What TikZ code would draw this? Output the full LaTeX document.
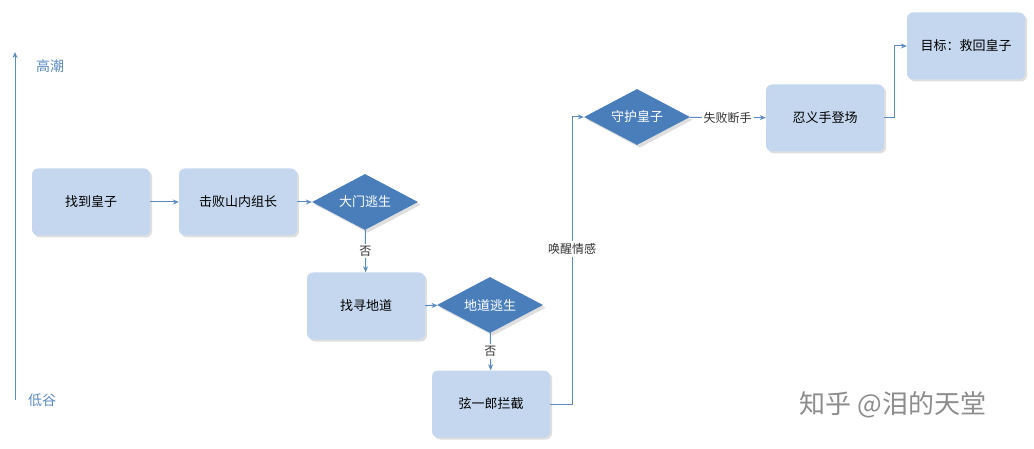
\documentclass[tikz,border=0pt]{standalone}
\usepackage{fontspec}
\setmainfont{Noto Sans CJK SC}
\usetikzlibrary{shapes.geometric,arrows.meta,shadows}
\definecolor{boxfill}{HTML}{C5D7EE}
\definecolor{diafill}{HTML}{4A7EBB}
\definecolor{lnc}{HTML}{5B8AC0}
\tikzset{
 box/.style={draw=none,fill=boxfill,rounded corners=6pt,minimum width=118pt,minimum height=67pt,font=\fontsize{13}{15}\selectfont,drop shadow={opacity=0.25,shadow xshift=2pt,shadow yshift=-2pt}},
 dia/.style={diamond,aspect=2,fill=diafill,text=white,inner sep=1pt,minimum width=106pt,minimum height=56pt,font=\fontsize{13}{15}\selectfont,drop shadow={opacity=0.25}},
 ln/.style={draw=lnc,line width=1pt,-{Stealth[length=6pt,width=5pt]}},
 lab/.style={fill=white,text=black!80,font=\fontsize{12}{14}\selectfont,inner sep=2pt}
}
\begin{document}
\begin{tikzpicture}[x=1pt,y=-1pt]
\useasboundingbox (0,0) rectangle (1034,449);
\coordinate (ab) at (15,400); \coordinate (at) at (15,52);
\draw[ln] (ab) -- (at);
\node[text=lnc,font=\fontsize{14}{16}\selectfont] (hi) at (50,66) {高潮};
\node[text=lnc,font=\fontsize{14}{16}\selectfont] (lo) at (42,400) {低谷};
\node[box] (b1) at (91,202) {找到皇子};
\node[box] (b2) at (238,202) {击败山内组长};
\node[dia] (d1) at (365,202) {大门逃生};
\node[box] (b3) at (366,306) {找寻地道};
\node[dia] (d2) at (490,305) {地道逃生};
\node[box] (b4) at (491,404) {弦一郎拦截};
\node[dia] (d3) at (637,117) {守护皇子};
\node[box] (b5) at (825,118) {忍义手登场};
\node[box] (b6) at (966,46) {目标：救回皇子};
\draw[ln] (b1) -- (b2);
\draw[ln] (b2) -- (d1);
\draw[ln] (d1) -- node[lab]{否} (b3);
\draw[ln] (b3) -- (d2);
\draw[ln] (d2) -- node[lab]{否} (b4);
\draw[ln] (b4.east) -- ++(22,0) |- node[lab,pos=0.27]{唤醒情感} (d3.west);
\draw[ln] (d3) -- node[lab]{失败断手} (b5);
\draw[ln] (b5.east) -- ++(10,0) |- (b6.west);
\node[text=black!45,font=\fontsize{26}{28}\selectfont] (wm) at (893,405) {知乎 @泪的天堂};
\end{tikzpicture}
\end{document}
